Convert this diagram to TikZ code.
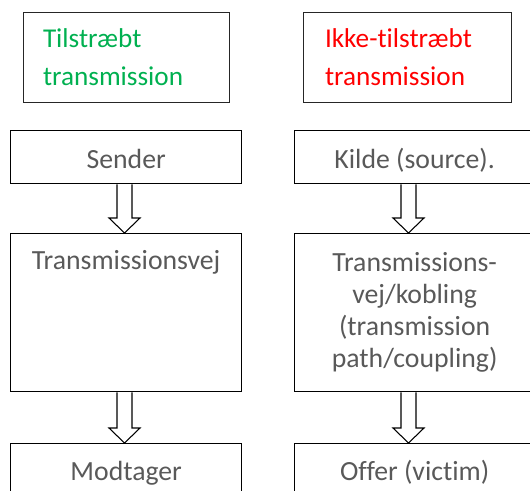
\documentclass[tikz,border=0pt]{standalone}
\usepackage{fontspec}
\setmainfont[Ligatures=NoCommon]{Carlito}
\usetikzlibrary{calc}
\definecolor{tekstgraa}{HTML}{595959}
\definecolor{groen}{HTML}{00B050}
\definecolor{roed}{HTML}{FF0000}
% hul blokpil fra bunden af #1 til toppen af #2
\newcommand{\blokpil}[2]{%
  \draw[pil] ($(#1.south west)+(107,0)$) -- ($(#2.north west)+(107,-15)$)
    -- ($(#2.north west)+(99,-15)$) -- ($(#2.north west)+(114.5,0)$)
    -- ($(#2.north west)+(130,-15)$) -- ($(#2.north west)+(122,-15)$)
    -- ($(#1.south west)+(122,0)$);}
\begin{document}
\begin{tikzpicture}[x=0.75pt,y=-0.75pt,
    kasse/.style={draw, line width=1pt, inner sep=0pt, anchor=north west,
      minimum width=173.25pt, text=tekstgraa, font=\fontsize{20.8}{24}\selectfont},
    overskrift/.style={draw=black!85, line width=0.75pt, minimum height=67.5pt, inner ysep=0pt,
      align=left, font=\fontsize{20.4}{28.5}\selectfont},
    pil/.style={line width=0.8pt}]
  \useasboundingbox (0,0) rectangle (530,490);
  \clip (0,0) rectangle (530,490);
  % overskrifter
  \node[overskrift, text=groen, inner xsep=15pt, text width=124.5pt] (tilst) at (126,57)
    {Tilstræbt\\transmission};
  \node[overskrift, text=roed, inner xsep=16.5pt, text width=123pt] (ikketilst) at (407,57)
    {Ikke-tilstræbt\\transmission};
  % venstre kolonne
  \node[kasse, text height=28.5pt, text depth=11.25pt] (sender) at (10,130) {Sender};
  \node[kasse, text height=27pt, text depth=91.5pt] (vej) at (10,233) {Transmissionsvej};
  \node[kasse, text height=27.75pt, text depth=15pt] (modtager) at (10,443) {Modtager};
  % hoejre kolonne
  \node[kasse, minimum width=180pt, text height=28.5pt, text depth=11.25pt] (kilde) at (294,130)
    {Kilde (source).};
  \node[kasse, minimum width=180pt, minimum height=118.5pt, align=center] (kobling) at (294,233)
    {Transmissions-\\vej/kobling\\(transmission\\path/coupling)};
  \node[kasse, minimum width=180pt, text height=27.75pt, text depth=15pt] (offer) at (294,443)
    {Offer (victim)};
  % pile
  \blokpil{sender}{vej}
  \blokpil{vej}{modtager}
  \blokpil{kilde}{kobling}
  \blokpil{kobling}{offer}
\end{tikzpicture}
\end{document}
